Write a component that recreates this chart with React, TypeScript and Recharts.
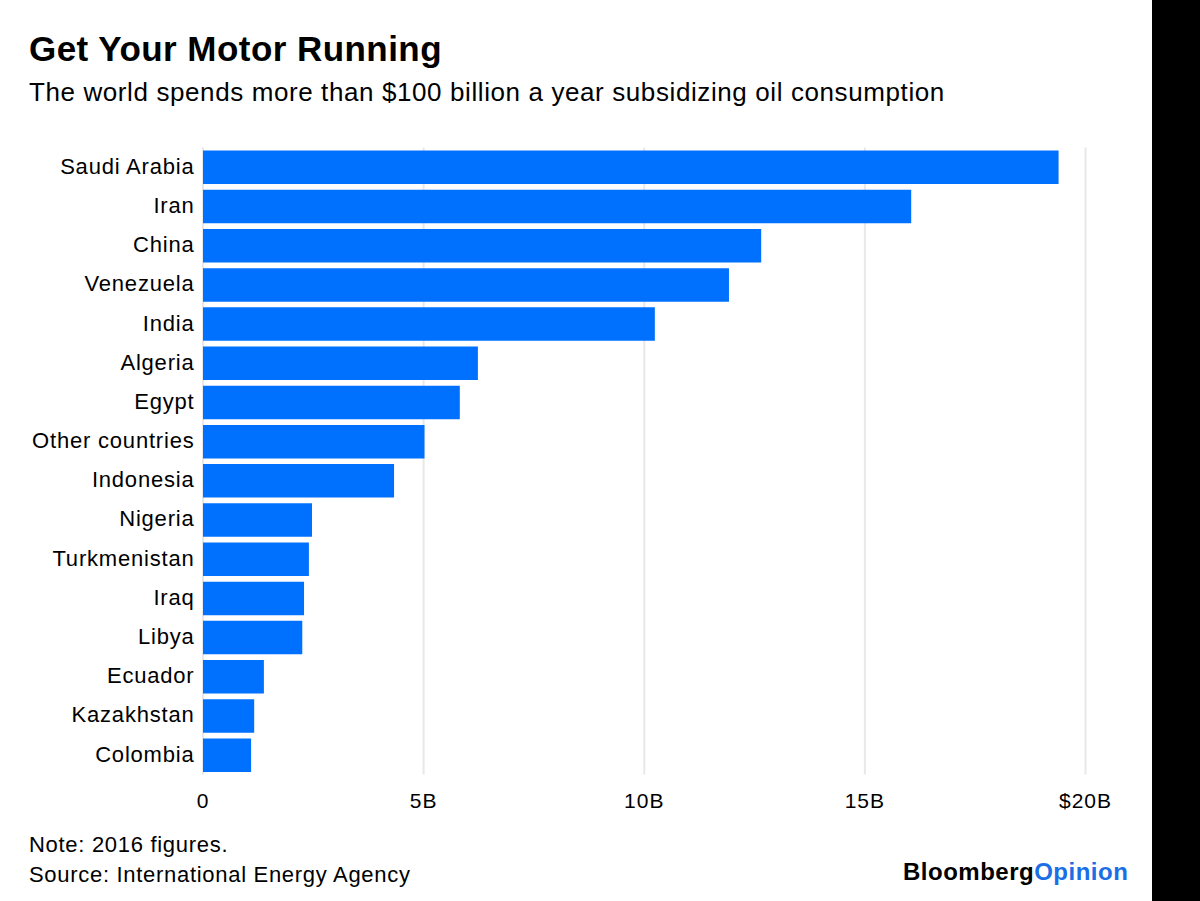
import React from "react";
import { Bar, BarChart, CartesianGrid, XAxis, YAxis } from "recharts";

const countries = [
  "Saudi Arabia",
  "Iran",
  "China",
  "Venezuela",
  "India",
  "Algeria",
  "Egypt",
  "Other countries",
  "Indonesia",
  "Nigeria",
  "Turkmenistan",
  "Iraq",
  "Libya",
  "Ecuador",
  "Kazakhstan",
  "Colombia",
];

// billions of dollars, 2016
const subsidies = [
  19.39, 16.05, 12.65, 11.92, 10.24, 6.23, 5.82, 5.02, 4.33, 2.47, 2.4, 2.29,
  2.25, 1.38, 1.16, 1.09,
];

const xTicks = [0, 5, 10, 15, 20];

const FONT = '"Liberation Sans", Arial, Helvetica, sans-serif';
const BAR_COLOR = "#0070ff";

const data = countries.map((name, i) => ({ name, value: subsidies[i] }));

function formatX(v: number) {
  if (v === 0) return "0";
  if (v === 20) return "$20B";
  return `${v}B`;
}

function CountryTick(props: any) {
  const { x, y, payload } = props;
  return (
    <text
      x={x}
      y={y}
      dy="0.3em"
      textAnchor="end"
      fill="#000"
      fontSize={22}
      fontFamily={FONT}
      style={{ letterSpacing: 0.8 }}
    >
      {payload.value}
    </text>
  );
}

function ValueTick(props: any) {
  const { x, y, payload } = props;
  return (
    <text
      x={x}
      y={y}
      dy="0.71em"
      textAnchor="middle"
      fill="#000"
      fontSize={21}
      fontFamily={FONT}
      style={{ letterSpacing: 1 }}
    >
      {formatX(payload.value)}
    </text>
  );
}

export default function App() {
  return (
    <div
      style={{
        position: "absolute",
        left: 0,
        top: 0,
        width: 1200,
        height: 901,
        background: "#fff",
        fontFamily: FONT,
        color: "#000",
        overflow: "hidden",
      }}
    >
      <div
        style={{
          position: "absolute",
          left: 29,
          top: 31,
          fontSize: 35,
          lineHeight: "35px",
          fontWeight: 700,
          letterSpacing: 0.45,
          whiteSpace: "nowrap",
        }}
      >
        Get Your Motor Running
      </div>
      <div
        style={{
          position: "absolute",
          left: 29,
          top: 79,
          fontSize: 26,
          lineHeight: "26px",
          letterSpacing: 0.6,
          whiteSpace: "nowrap",
        }}
      >
        The world spends more than $100 billion a year subsidizing oil
        consumption
      </div>

      <div style={{ position: "absolute", left: 0, top: 0 }}>
        <BarChart
          width={1152}
          height={901}
          data={data}
          layout="vertical"
          margin={{ top: 147.6, right: 66.5, bottom: 86.4, left: 0 }}
        >
          <CartesianGrid
            horizontal={false}
            stroke="#e8e8e8"
            strokeWidth={2}
          />
          <XAxis
            type="number"
            domain={[0, 20]}
            ticks={xTicks}
            axisLine={false}
            tickLine={false}
            tickSize={0}
            tickMargin={18.4}
            height={40}
            tick={<ValueTick />}
            interval={0}
          />
          <YAxis
            type="category"
            dataKey="name"
            width={203}
            axisLine={false}
            tickLine={false}
            tickSize={0}
            tickMargin={8.5}
            tick={<CountryTick />}
            interval={0}
          />
          <Bar
            dataKey="value"
            fill={BAR_COLOR}
            barSize={33.5}
            isAnimationActive={false}
          />
        </BarChart>
      </div>

      <div
        style={{
          position: "absolute",
          left: 29,
          top: 834,
          fontSize: 22,
          lineHeight: "22px",
          letterSpacing: 0.7,
          whiteSpace: "nowrap",
        }}
      >
        Note: 2016 figures.
      </div>
      <div
        style={{
          position: "absolute",
          left: 29,
          top: 864,
          fontSize: 22,
          lineHeight: "22px",
          letterSpacing: 0.7,
          whiteSpace: "nowrap",
        }}
      >
        Source: International Energy Agency
      </div>

      <div
        style={{
          position: "absolute",
          left: 903,
          top: 860,
          fontSize: 24,
          lineHeight: "24px",
          fontWeight: 700,
          letterSpacing: 0.5,
          whiteSpace: "nowrap",
        }}
      >
        <span style={{ color: "#000" }}>Bloomberg</span>
        <span style={{ color: "#1a6ee6" }}>Opinion</span>
      </div>

      <div
        style={{
          position: "absolute",
          left: 1152,
          top: 0,
          width: 48,
          height: 901,
          background: "#000",
        }}
      />
    </div>
  );
}
